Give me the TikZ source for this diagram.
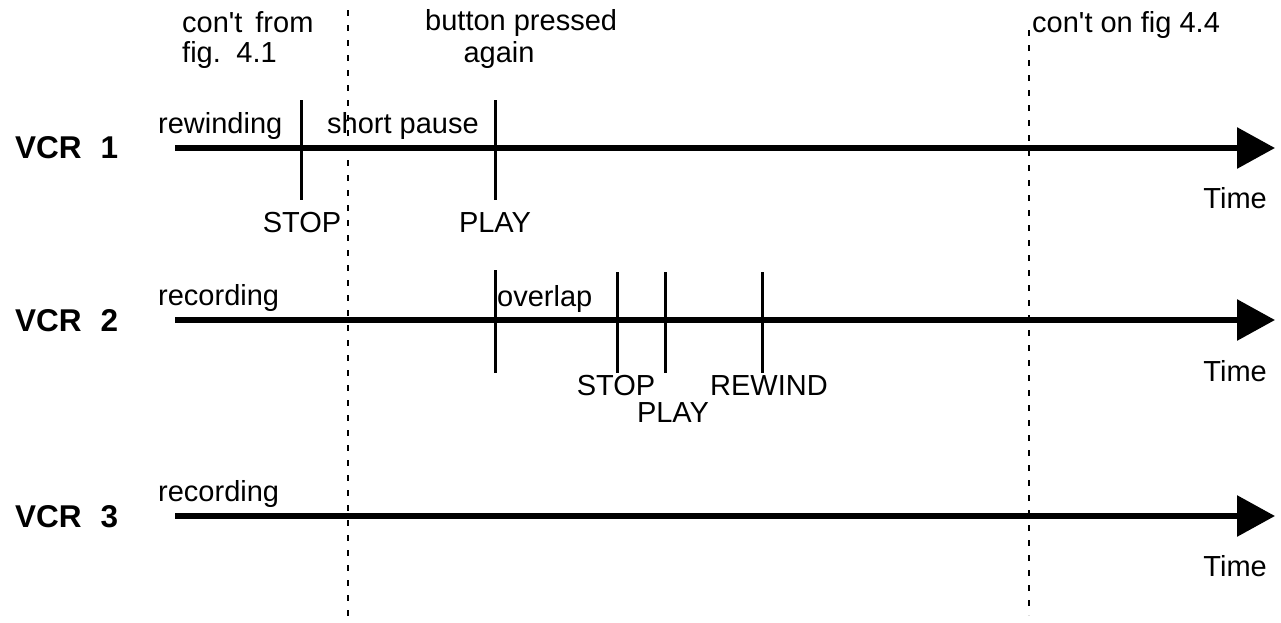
\documentclass[tikz,border=0pt]{standalone}
\usepackage{fontspec}
\setmainfont{Liberation Sans}
\usetikzlibrary{arrows.meta}
\begin{document}
\begin{tikzpicture}[x=1pt,y=-1pt,
  lbl/.style={inner sep=0pt,font=\fontsize{29}{34}\selectfont},
  vcr/.style={inner sep=0pt,font=\fontsize{31.5}{34}\selectfont\bfseries},
  timeline/.style={line width=6pt,-{Triangle[length=38pt,width=40pt]}},
  tick/.style={line width=3pt},
  sep/.style={line width=2.5pt,dash pattern=on 6pt off 9pt}]
\useasboundingbox (0,0) rectangle (1281,622);
% separators
\coordinate (s1t) at (348,10); \coordinate (s1b) at (348,620);
\coordinate (s2t) at (1029,30); \coordinate (s2b) at (1029,615);
\draw[sep] (s1t) -- (s1b);
\draw[sep] (s2t) -- (s2b);
% top texts
\node[lbl,anchor=base west] (cf1) at (182,32) {con\textquotesingle t\, from};
\node[lbl,anchor=base west] (cf2) at (182,62) {fig.\, 4.1};
\node[lbl,anchor=base west] (bp1) at (425,30) {button pressed};
\node[lbl,anchor=base] (bp2) at (499,62) {again};
\node[lbl,anchor=base west] (co) at (1032,32) {con\textquotesingle t on fig 4.4};
% VCR labels
\node[vcr,anchor=base west] (v1) at (15,158) {VCR\hspace{0.6em}1};
\node[vcr,anchor=base west] (v2) at (15,331) {VCR\hspace{0.6em}2};
\node[vcr,anchor=base west] (v3) at (15,527) {VCR\hspace{0.6em}3};
% timelines
\coordinate (a1) at (175,148); \coordinate (b1) at (1275,148);
\coordinate (a2) at (175,320); \coordinate (b2) at (1275,320);
\coordinate (a3) at (175,516); \coordinate (b3) at (1275,516);
\draw[timeline] (a1) -- (b1);
\draw[timeline] (a2) -- (b2);
\draw[timeline] (a3) -- (b3);
\node[lbl,anchor=base east] (t1) at (1267,208) {Time};
\node[lbl,anchor=base east] (t2) at (1267,381) {Time};
\node[lbl,anchor=base east] (t3) at (1267,576) {Time};
% VCR 1 ticks
\coordinate (k1t) at (301,100); \coordinate (k1b) at (301,200);
\coordinate (k2t) at (495,100); \coordinate (k2b) at (495,200);
\draw[tick] (k1t) -- (k1b);
\draw[tick] (k2t) -- (k2b);
\node[lbl,anchor=base west] (rw) at (158,133) {rewinding};
\node[lbl,anchor=base west] (sp) at (327,133) {short pause};
\node[lbl,anchor=base] (st1) at (302,232) {STOP};
\node[lbl,anchor=base] (pl1) at (495,232) {PLAY};
% VCR 2 ticks
\coordinate (m1t) at (495,270); \coordinate (m1b) at (495,373);
\coordinate (m2t) at (617,272); \coordinate (m2b) at (617,373);
\coordinate (m3t) at (665,272); \coordinate (m3b) at (665,373);
\coordinate (m4t) at (762,272); \coordinate (m4b) at (762,373);
\draw[tick] (m1t) -- (m1b);
\draw[tick] (m2t) -- (m2b);
\draw[tick] (m3t) -- (m3b);
\draw[tick] (m4t) -- (m4b);
\node[lbl,anchor=base west] (rc2) at (158,305) {recording};
\node[lbl,anchor=base west] (ov) at (497,306) {overlap};
\node[lbl,anchor=base] (st2) at (616,395) {STOP};
\node[lbl,anchor=base] (pl2) at (673,422) {PLAY};
\node[lbl,anchor=base] (rwd) at (769,395) {REWIND};
% VCR 3
\node[lbl,anchor=base west] (rc3) at (158,501) {recording};
\end{tikzpicture}
\end{document}
